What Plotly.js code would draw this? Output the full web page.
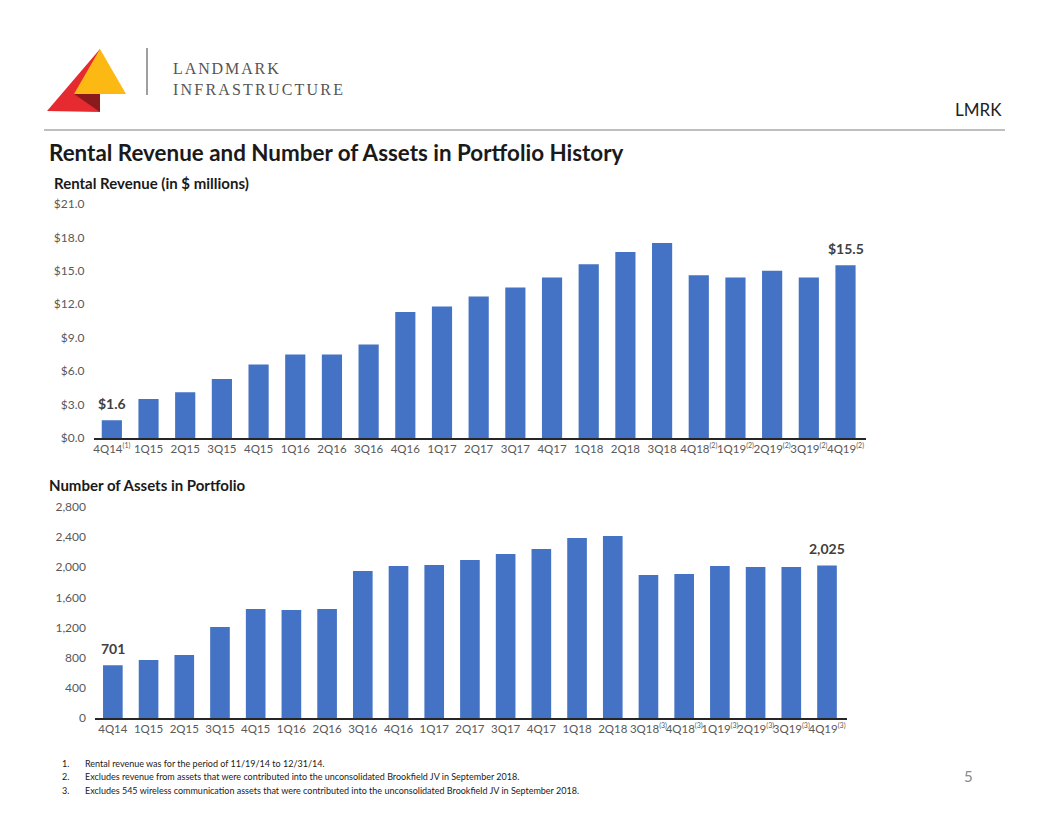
<!DOCTYPE html>
<html>
<head>
<meta charset="utf-8">
<script src="https://cdn.plot.ly/plotly-3.0.1.min.js"></script>
<style>html,body{margin:0;padding:0;background:#fff;}#chart{width:1056px;height:816px;}</style>
</head>
<body>
<div id="chart"></div>
<script>
// ---------- DATA ----------
const quarters = ["4Q14","1Q15","2Q15","3Q15","4Q15","1Q16","2Q16","3Q16","4Q16","1Q17","2Q17","3Q17","4Q17","1Q18","2Q18","3Q18","4Q18","1Q19","2Q19","3Q19","4Q19"];
const revenueNotes = ["(1)","","","","","","","","","","","","","","","","(2)","(2)","(2)","(2)","(2)"];
const assetNotes   = ["","","","","","","","","","","","","","","","(3)","(3)","(3)","(3)","(3)","(3)"];
const rentalRevenue = [1.6,3.5,4.1,5.3,6.6,7.5,7.5,8.4,11.3,11.8,12.7,13.5,14.4,15.6,16.7,17.5,14.6,14.4,15.0,14.4,15.5];
const assetCount = [701,770,836,1208,1446,1433,1446,1951,2017,2030,2097,2176,2243,2389,2415,1898,1911,2017,2004,2004,2025];
const labelledIdx = [0, 20];
const footnotes = [
  "Rental revenue was for the period of 11/19/14 to 12/31/14.",
  "Excludes revenue from assets that were contributed into the unconsolidated Brookfield JV in September 2018.",
  "Excludes 545 wireless communication assets that were contributed into the unconsolidated Brookfield JV in September 2018."
];

// ---------- HELPERS ----------
const W = 1056, H = 816;
const X = px => px / W;
const Y = py => 1 - py / H;
const FONT = "Lato, 'Open Sans', sans-serif";
const tickColor = "#595959";
const barColor = "#4472C4";

const supNote = n => "<sup><span style=\"font-size:7px\">" + n + "</span></sup>";
const revTickText = quarters.map((q,i) => revenueNotes[i] ? q + supNote(revenueNotes[i]) : q);
const assetTickText = quarters.map((q,i) => assetNotes[i] ? q + supNote(assetNotes[i]) : q);

const traces = [
  {type:"bar", x: quarters, y: rentalRevenue, xaxis:"x", yaxis:"y",
   marker:{color:barColor}, cliponaxis:false, hoverinfo:"x+y"},
  {type:"bar", x: quarters, y: assetCount, xaxis:"x2", yaxis:"y2",
   marker:{color:barColor}, cliponaxis:false, hoverinfo:"x+y"}
];

const labelFont = {family:FONT, size:14, color:"#404040", weight:700};
const annotations = [];
labelledIdx.forEach(i => {
  annotations.push({xref:"x", yref:"y", x:quarters[i], y:rentalRevenue[i], text:"$" + rentalRevenue[i].toFixed(1),
    xanchor:"center", yanchor:"bottom", yshift:6, showarrow:false, font:labelFont});
  annotations.push({xref:"x2", yref:"y2", x:quarters[i], y:assetCount[i], text:assetCount[i].toLocaleString("en-US"),
    xanchor:"center", yanchor:"bottom", yshift:6, showarrow:false, font:labelFont});
});

const pageTexts = [
  {text:"LANDMARK", x:X(171), y:Y(68), xanchor:"left", yanchor:"middle", align:"left",
   font:{family:"'Liberation Serif', serif", size:16, color:"#555555"}},
  {text:"INFRASTRUCTURE", x:X(171), y:Y(89), xanchor:"left", yanchor:"middle", align:"left",
   font:{family:"'Liberation Serif', serif", size:16, color:"#555555"}},
  {text:"LMRK", x:X(1004), y:Y(110), xanchor:"right", yanchor:"middle",
   font:{family:FONT, size:17, color:"#222"}},
  {text:"<b>Rental Revenue and Number of Assets in Portfolio History</b>", x:X(47), y:Y(152), xanchor:"left", yanchor:"middle",
   font:{family:FONT, size:22.4, color:"#1a1a1a"}},
  {text:"<b>Rental Revenue (in $ millions)</b>", x:X(52), y:Y(183), xanchor:"left", yanchor:"middle",
   font:{family:FONT, size:15, color:"#1a1a1a"}},
  {text:"<b>Number of Assets in Portfolio</b>", x:X(47), y:Y(485), xanchor:"left", yanchor:"middle",
   font:{family:FONT, size:15, color:"#1a1a1a"}},
  {text:"5", x:X(968), y:Y(776), xanchor:"center", yanchor:"middle",
   font:{family:FONT, size:15, color:"#8a8a8a"}}
];
footnotes.forEach((f,i) => {
  const py = 763 + i*13.5;
  pageTexts.push({text:(i+1)+".", x:X(60), y:Y(py), xanchor:"left", yanchor:"middle",
    font:{family:FONT, size:9, color:"#1a1a1a"}});
  pageTexts.push({text:f, x:X(83), y:Y(py), xanchor:"left", yanchor:"middle",
    font:{family:FONT, size:9, color:"#1a1a1a"}});
});
pageTexts.forEach(a => { a.xref = "paper"; a.yref = "paper"; a.showarrow = false; annotations.push(a); });

const P = (pts) => "M " + pts.map(p => X(p[0]) + " " + Y(p[1])).join(" L ") + " Z";
const shapes = [
  {type:"path", path:P([[47,111],[100,49],[100,112]]), fillcolor:"#E52B2F", line:{width:0}},
  {type:"path", path:P([[100,49],[74,94],[126,94]]), fillcolor:"#FDB913", line:{width:0}},
  {type:"path", path:P([[74,94],[100,94],[100,112]]), fillcolor:"#8B1A1C", line:{width:0}},
  {type:"line", x0:X(147), x1:X(147), y0:Y(48), y1:Y(95), line:{color:"#7f7f7f", width:1.5}},
  {type:"line", x0:X(44), x1:X(1005), y0:Y(130), y1:Y(130), line:{color:"#7f7f7f", width:1}}
];
shapes.forEach(s => { s.xref = "paper"; s.yref = "paper"; });

const xCommon = {type:"category", showgrid:false, zeroline:false, showline:true, linecolor:"#262626", linewidth:1.5,
  ticks:"", tickfont:{family:FONT, size:11.5, color:tickColor}, tickangle:0, fixedrange:true};
const yCommon = {showgrid:false, zeroline:false, showline:false, ticks:"", ticklabelstandoff:8,
  tickfont:{family:FONT, size:12, color:tickColor}, fixedrange:true};

const layout = {
  width:W, height:H, autosize:false,
  margin:{l:0, r:0, t:0, b:0, pad:0},
  paper_bgcolor:"#fff", plot_bgcolor:"#fff",
  showlegend:false, bargap:0.45,
  xaxis: Object.assign({}, xCommon, {domain:[X(93.5), X(865.5)], anchor:"y",
    tickvals: quarters, ticktext: revTickText}),
  yaxis: Object.assign({}, yCommon, {domain:[Y(438), Y(204)], anchor:"x",
    range:[0,21], dtick:3, tick0:0, tickprefix:"$", tickformat:".1f"}),
  xaxis2: Object.assign({}, xCommon, {domain:[X(95), X(847)], anchor:"y2",
    tickvals: quarters, ticktext: assetTickText}),
  yaxis2: Object.assign({}, yCommon, {domain:[Y(718), Y(507)], anchor:"x2",
    range:[0,2800], dtick:400, tick0:0, tickformat:",d"}),
  annotations, shapes
};

Plotly.newPlot("chart", traces, layout, {displayModeBar:false, staticPlot:true}).then(() => {
  document.querySelectorAll(".annotation-text").forEach(t => {
    const s = t.textContent;
    if (s === "LANDMARK") t.style.letterSpacing = "1.9px";
    if (s === "INFRASTRUCTURE") t.style.letterSpacing = "2.2px";
  });
});
</script>
</body>
</html>
